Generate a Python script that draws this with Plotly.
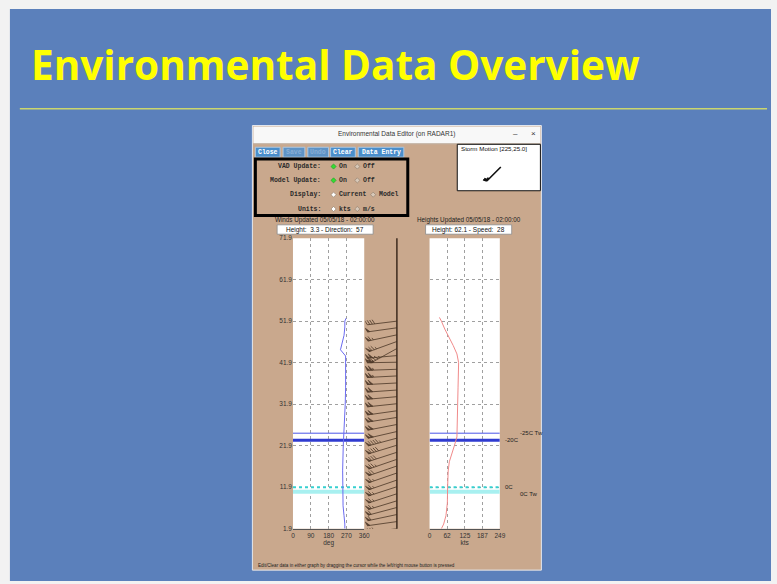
import math
import plotly.graph_objects as go

W, H = 777, 584

# ---------------- data ----------------
slide_title = "Environmental Data Overview"
window_title = "Environmental Data Editor (on RADAR1)"
button_labels = ["Close", "Save", "Undo", "Clear", "Data Entry"]
button_enabled = [True, False, False, True, True]
control_labels = ["VAD Update:", "Model Update:", "Display:", "Units:"]
control_options = [["On", "Off"], ["On", "Off"], ["Current", "Model"], ["kts", "m/s"]]
control_selected = [0, 0, 0, 0]
storm_motion_label = "Storm Motion [225,25.0]"
storm_motion = [225, 25.0]  # direction (deg), speed (kts)
winds_updated = "Winds Updated 05/05/18 - 02:00:00"
heights_updated = "Heights Updated 05/05/18 - 02:00:00"
winds_readout = "Height:  3.3 - Direction:  57"
heights_readout = "Height: 62.1 - Speed:  28"
help_text = "Edit/Clear data in either graph by dragging the cursor while the left/right mouse button is pressed"

height_ticks = [1.9, 11.9, 21.9, 31.9, 41.9, 51.9, 61.9, 71.9]
height_tick_labels = ["1.9", "11.9", "21.9", "31.9", "41.9", "51.9", "61.9", "71.9"]
dir_ticks = [0, 90, 180, 270, 360]
dir_tick_labels = ["0", "90", "180", "270", "360"]
speed_ticks = [0, 62, 125, 187, 249]
speed_tick_labels = ["0", "62", "125", "187", "249"]

dir_heights = [1.9, 3.0, 5.0, 7.4, 11.9, 16.0, 21.9, 26.0, 31.9, 36.0, 41.9, 43.5, 45.0, 46.5, 48.5, 50.5, 51.9, 52.6]
dir_values = [262, 262, 258, 253, 252, 251, 254, 259, 264, 266, 268, 266, 240, 247, 258, 262, 262, 268]

speed_heights = [1.9, 3.0, 5.0, 8.0, 11.9, 15.8, 18.0, 20.0, 21.9, 24.0, 28.0, 31.9, 36.0, 41.9, 44.0, 46.0, 48.0, 50.0, 51.9, 52.8]
speed_values = [42, 50, 58, 63, 64, 66, 70, 80, 88, 97, 99, 99, 101, 103, 97, 84, 68, 54, 42, 35]

barb_heights = [1.9, 3.6, 5.3, 7.0, 8.6, 10.3, 12.0, 13.6, 15.3, 17.0, 18.6, 20.3, 22.0, 23.7, 25.3, 27.0,
                28.7, 30.3, 32.0, 33.7, 35.3, 37.0, 38.7, 40.3, 42.0, 43.6, 45.3, 47.0, 48.6, 50.3, 51.9]
barb_dirs = [262, 262, 258, 255, 253, 252, 252, 251, 251, 251, 251, 252, 253, 255, 257, 259,
             261, 262, 264, 265, 266, 267, 267, 268, 269, 265, 241, 250, 258, 262, 263]
barb_speeds = [42, 52, 58, 62, 63, 64, 64, 65, 66, 68, 74, 82, 90, 96, 98, 99,
               99, 100, 100, 101, 102, 102, 103, 104, 103, 98, 86, 76, 64, 52, 42]

level_names = ["-25C Tw", "-20C", "0C", "0C Tw"]
level_heights = [24.9, 23.2, 11.9, 10.8]

# ---------------- styles / layout constants ----------------
SLIDE_BLUE = "#5B80BB"
TAN = "#C9A88D"
SANS = "Liberation Sans"
MONO = "Liberation Mono"
TXT = "#222222"

PLOT_TOP, PLOT_BOT = 237, 531
L_X0, L_X1 = 294, 366
B_X0, B_X1 = 367, 401
R_X0, R_X1 = 432, 503
Y_RANGE = [1.9, 71.9]
PPU = (PLOT_BOT - PLOT_TOP) / (Y_RANGE[1] - Y_RANGE[0])  # pixels per height unit


def fx(x):
    return x / W


def fy(y):
    return 1 - y / H


shapes = []
annotations = []


def rect(x0, y0, x1, y1, fill, line=None, lw=0):
    shapes.append(dict(type="rect", xref="paper", yref="paper", x0=fx(x0), x1=fx(x1), y0=fy(y1), y1=fy(y0),
                       fillcolor=fill, line=dict(color=line if line else fill, width=lw), layer="below"))


def hline(x0, x1, y, color, width):
    shapes.append(dict(type="line", xref="paper", yref="paper", x0=fx(x0), x1=fx(x1), y0=fy(y), y1=fy(y),
                       line=dict(color=color, width=width), layer="below"))


def text(x, y, s, size=6.5, color=TXT, family=SANS, xanchor="center", yanchor="middle", weight="normal"):
    annotations.append(dict(x=fx(x), y=fy(y), xref="paper", yref="paper", text=s, showarrow=False,
                            xanchor=xanchor, yanchor=yanchor, borderpad=0,
                            font=dict(size=size, color=color, family=family, weight=weight)))


def diamond(cx, cy, r, fill, line):
    path = "M {} {} L {} {} L {} {} L {} {} Z".format(
        fx(cx), fy(cy - r), fx(cx + r), fy(cy), fx(cx), fy(cy + r), fx(cx - r), fy(cy))
    shapes.append(dict(type="path", xref="paper", yref="paper", path=path, fillcolor=fill,
                       line=dict(color=line, width=0.6), layer="above"))


def barb_geometry(direction, speed, shaft, feather, spacing):
    r = math.radians(direction)
    ux, uy = math.sin(r), math.cos(r)
    px_, py_ = uy, -ux
    lx, ly = 0.9 * px_ + 0.44 * ux, 0.9 * py_ + 0.44 * uy
    segs = [[(0.0, 0.0), (shaft * ux, shaft * uy)]]
    polys = []
    rem = int(5 * round(speed / 5))
    pos = shaft
    while rem >= 50:
        a = (pos * ux, pos * uy)
        b = (pos * ux + feather * lx, pos * uy + feather * ly)
        c = ((pos - spacing) * ux, (pos - spacing) * uy)
        polys.append([a, b, c])
        pos -= spacing * 1.3
        rem -= 50
    while rem >= 10:
        a = (pos * ux, pos * uy)
        segs.append([a, (a[0] + feather * lx, a[1] + feather * ly)])
        pos -= spacing
        rem -= 10
    if rem >= 5:
        if pos == shaft:
            pos -= spacing
        a = (pos * ux, pos * uy)
        segs.append([a, (a[0] + 0.5 * feather * lx, a[1] + 0.5 * feather * ly)])
    return segs, polys


# ---------------- slide background ----------------
rect(8, 5, W, H, SLIDE_BLUE)
text(28, 61, slide_title, size=40.5, color="#FFFF00", family="Open Sans", xanchor="left", weight="bold")
hline(18, 773, 106, "#CBD66E", 1.5)

# ---------------- window frame ----------------
rect(253, 123, 545, 573, TAN, "#E4E8EE", 1)
rect(254, 124, 544, 141, "#F8F8F8")
hline(254, 544, 141.5, "#B8B8B8", 0.6)
text(399, 132, window_title, size=6.5, color="#333")
text(519, 131, "–", size=8, color="#333")
text(537, 131, "×", size=8, color="#333")

# buttons
button_x = [(256, 281), (284, 306), (309, 330), (332, 357), (360, 406)]
for (x0, x1), lab, en in zip(button_x, button_labels, button_enabled):
    rect(x0, 145, x1, 155, "#4A8ECB" if en else "#5E93C6", "#A9C6E2", 1)
    text((x0 + x1) / 2, 150.3, lab, size=6.5, color="#FFFFFF" if en else "#89AFD6", family=MONO, weight="bold")

# control box
rect(256, 157, 410, 214, TAN, "#000000", 3)
rows_y = [164.5, 178.5, 193, 207.5]
opt_x = [[(335, 340), (359, 364)], [(335, 340), (359, 364)], [(335, 340), (375, 380)], [(335, 340), (359, 364)]]
for lab, opts, sel, yy, ox in zip(control_labels, control_options, control_selected, rows_y, opt_x):
    text(323, yy, lab, size=6.5, color="#2A2A2A", family=MONO, xanchor="right", weight="bold")
    for k, (o, (dx, tx)) in enumerate(zip(opts, ox)):
        if k == sel and o == "On":
            diamond(dx, yy, 2.6, "#33DD33", "#1E9A1E")
        elif k == sel:
            diamond(dx, yy, 2.6, "#FFFFFF", "#8C7A6A")
        else:
            diamond(dx, yy, 2.6, "#D8C8B8", "#8C7A6A")
        text(tx, yy, o, size=6.5, color="#2A2A2A", family=MONO, xanchor="left", weight="bold")

# storm motion box
rect(460, 142, 544, 189, "#FFFFFF", "#111111", 1)
text(463, 146.5, storm_motion_label, size=6.2, color="#111", xanchor="left")
sm_segs, sm_polys = barb_geometry(storm_motion[0], storm_motion[1], 20, 4, 1.6)
ox, oy = 504, 165
sm_path = ""
for (a, b) in sm_segs:
    sm_path += "M {} {} L {} {} ".format(fx(ox + a[0]), fy(oy - a[1]), fx(ox + b[0]), fy(oy - b[1]))
shapes.append(dict(type="path", xref="paper", yref="paper", path=sm_path,
                   line=dict(color="#111111", width=1.6), layer="above"))

# headers and readouts
text(326, 219, winds_updated, size=6.3, color="#222")
text(472, 219, heights_updated, size=6.3, color="#222")
rect(278, 223.5, 375, 233, "#FFFFFF", "#8A8A8A", 0.8)
rect(428, 223.5, 515, 233, "#FFFFFF", "#8A8A8A", 0.8)
text(326.5, 228.5, winds_readout, size=6.5, color="#111")
text(471.5, 228.5, heights_readout, size=6.5, color="#111")

# white plot areas
rect(L_X0, PLOT_TOP, L_X1, PLOT_BOT, "#FFFFFF")
rect(R_X0, PLOT_TOP, R_X1, PLOT_BOT, "#FFFFFF")

# help text
text(258, 568, help_text, size=4.6, color="#222", xanchor="left")

# ---------------- traces ----------------
fig = go.Figure()

level_styles = [dict(color="#4A55E8", width=1), dict(color="#2F3BD0", width=3),
                dict(color="#35D0D0", width=2, dash="dot"), dict(color="#A8F0F0", width=4)]
draw_order = [3, 2, 0, 1]
for i in draw_order:
    for xa, ya, rng in (("x", "y", [0, 360]), ("x3", "y3", [0, 249])):
        fig.add_trace(go.Scatter(x=rng, y=[level_heights[i]] * 2, xaxis=xa, yaxis=ya, mode="lines",
                                 line=level_styles[i], hoverinfo="skip", showlegend=False))

fig.add_trace(go.Scatter(x=dir_values, y=dir_heights, xaxis="x", yaxis="y", mode="lines",
                         line=dict(color="#6B6BF0", width=1), name="Direction", showlegend=False))
fig.add_trace(go.Scatter(x=speed_values, y=speed_heights, xaxis="x3", yaxis="y3", mode="lines",
                         line=dict(color="#F08A8A", width=1), name="Speed", showlegend=False))

# wind barbs
bx, by, px_, py_ = [], [], [], []
for h, d, s in zip(barb_heights, barb_dirs, barb_speeds):
    segs, polys = barb_geometry(d, s, 30, 5, 2.5)
    for a, b in segs:
        bx += [a[0], b[0], None]
        by += [h + a[1] / PPU, h + b[1] / PPU, None]
    for poly in polys:
        for p in poly + [poly[0]]:
            px_.append(p[0])
            py_.append(h + p[1] / PPU)
        px_.append(None)
        py_.append(None)
fig.add_trace(go.Scatter(x=bx, y=by, xaxis="x2", yaxis="y2", mode="lines",
                         line=dict(color="#4A3626", width=0.8), hoverinfo="skip", showlegend=False))
fig.add_trace(go.Scatter(x=px_, y=py_, xaxis="x2", yaxis="y2", mode="lines", fill="toself",
                         fillcolor="#5A4434", line=dict(color="#4A3626", width=0.5),
                         hoverinfo="skip", showlegend=False))

shapes.append(dict(type="line", xref="x2", yref="y2 domain", x0=0, x1=0, y0=0, y1=1,
                   line=dict(color="#3C2A1E", width=1.5), layer="above"))

# level labels
label_pos = [(521, 0), (506, 0), (506, 0), (521, -2)]
for name, hgt, (lx, ys) in zip(level_names, level_heights, label_pos):
    annotations.append(dict(x=fx(lx), xref="paper", y=hgt, yref="y", text=name, showarrow=False,
                            xanchor="left", yanchor="middle", yshift=ys,
                            font=dict(size=6, color="#222", family=SANS)))

grid = dict(showgrid=True, gridcolor="#A0A0A0", griddash="dot", gridwidth=1, zeroline=False)
tickfont = dict(size=6.5, color="#333", family=SANS)
ydom = [fy(PLOT_BOT), fy(PLOT_TOP)]

fig.update_layout(
    width=W, height=H, margin=dict(l=0, r=0, t=0, b=0),
    paper_bgcolor="#F2F2F2", plot_bgcolor="rgba(0,0,0,0)",
    showlegend=False, shapes=shapes, annotations=annotations,
    xaxis=dict(domain=[fx(L_X0), fx(L_X1)], range=[0, 360], tickvals=dir_ticks, ticktext=dir_tick_labels,
               showline=True, linecolor="#555", linewidth=1.5, ticks="", tickfont=tickfont,
               title=dict(text="deg", font=tickfont, standoff=1), anchor="y", fixedrange=True, **grid),
    yaxis=dict(domain=ydom, range=Y_RANGE, tickvals=height_ticks, ticktext=height_tick_labels,
               ticks="", tickfont=tickfont, anchor="x", fixedrange=True, **grid),
    xaxis2=dict(domain=[fx(B_X0), fx(B_X1)], range=[-32, 2], visible=False, anchor="y2", fixedrange=True),
    yaxis2=dict(domain=ydom, range=Y_RANGE, visible=False, anchor="x2", fixedrange=True),
    xaxis3=dict(domain=[fx(R_X0), fx(R_X1)], range=[0, 249], tickvals=speed_ticks, ticktext=speed_tick_labels,
                showline=True, linecolor="#555", linewidth=1.5, ticks="", tickfont=tickfont,
                title=dict(text="kts", font=tickfont, standoff=1), anchor="y3", fixedrange=True, **grid),
    yaxis3=dict(domain=ydom, range=Y_RANGE, tickvals=height_ticks, showticklabels=False, ticks="",
                anchor="x3", fixedrange=True, **grid),
)

fig.write_html("out.html", config={"displayModeBar": False, "staticPlot": True},
               post_script="document.body.style.margin='0';document.body.style.overflow='hidden';")
